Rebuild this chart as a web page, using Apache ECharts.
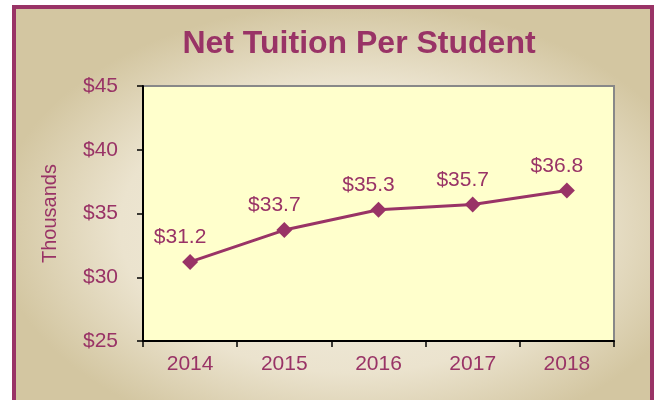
<!DOCTYPE html>
<html>
<head>
<meta charset="utf-8">
<script src="https://cdn.jsdelivr.net/npm/echarts@6/dist/echarts.min.js"></script>
<style>
html,body{margin:0;padding:0;background:#fff;}
#chart{width:654px;height:400px;}
</style>
</head>
<body>
<div id="chart"></div>
<script>
const categories = ['2014', '2015', '2016', '2017', '2018'];
const netTuition = [31.2, 33.7, 35.3, 35.7, 36.8];
const yTicks = { min: 25, max: 45, interval: 5 };
const titleText = 'Net Tuition Per Student';
const yAxisName = 'Thousands';

const purple = '#993366';
const font = '"Liberation Sans", Arial, sans-serif';

const chart = echarts.init(document.getElementById('chart'), null, { renderer: 'canvas' });
chart.setOption({
  animation: false,
  backgroundColor: '#ffffff',
  graphic: [
    {
      type: 'rect', z: -10, silent: true,
      x: 14, y: 7, scaleX: 638 / 400,
      shape: { x: 0, y: 0, width: 400, height: 400 },
      style: {
        fill: {
          type: 'radial', x: 0.53, y: 0.55, r: 0.56,
          colorStops: [
            { offset: 0, color: '#F4F0E4' },
            { offset: 0.65, color: '#EBE3CE' },
            { offset: 1, color: '#D3C6A1' }
          ]
        },
        stroke: null
      }
    },
    {
      type: 'rect', z: 100, silent: true,
      shape: { x: 14, y: 7, width: 638, height: 400 },
      style: { fill: null, stroke: purple, lineWidth: 4 }
    }
  ],
  title: {
    text: titleText,
    left: 354,
    textAlign: 'center',
    top: 23,
    textStyle: { color: purple, fontSize: 32, fontWeight: 'bold', fontFamily: font }
  },
  grid: {
    left: 143, right: 40, top: 86, bottom: 59,
    show: true,
    backgroundColor: '#FFFFCC',
    borderColor: '#888888',
    borderWidth: 2
  },
  xAxis: {
    type: 'category',
    data: categories,
    boundaryGap: true,
    axisLine: { lineStyle: { color: '#000', width: 2 } },
    axisTick: { show: true, length: 6, lineStyle: { color: '#000', width: 1.5 } },
    axisLabel: { color: purple, fontSize: 21, fontFamily: font, margin: 13 },
    splitLine: { show: false }
  },
  yAxis: {
    type: 'value',
    min: yTicks.min, max: yTicks.max, interval: yTicks.interval,
    name: yAxisName,
    nameLocation: 'middle',
    nameRotate: 90,
    nameGap: 83,
    nameTextStyle: { color: purple, fontSize: 20, fontFamily: font },
    axisLine: { show: true, lineStyle: { color: '#000', width: 2 } },
    axisTick: { show: true, length: 6, lineStyle: { color: '#000', width: 1.5 } },
    axisLabel: { color: purple, fontSize: 21, fontFamily: font, margin: 25, formatter: v => '$' + v },
    splitLine: { show: false }
  },
  series: [{
    type: 'line',
    data: netTuition,
    symbol: 'diamond',
    symbolSize: 16,
    lineStyle: { color: purple, width: 3 },
    itemStyle: { color: purple },
    label: {
      show: true, position: 'top', distance: 6, offset: [-10, 0],
      color: purple, fontSize: 21, fontFamily: font,
      formatter: p => '$' + p.value.toFixed(1)
    }
  }]
});
</script>
</body>
</html>
